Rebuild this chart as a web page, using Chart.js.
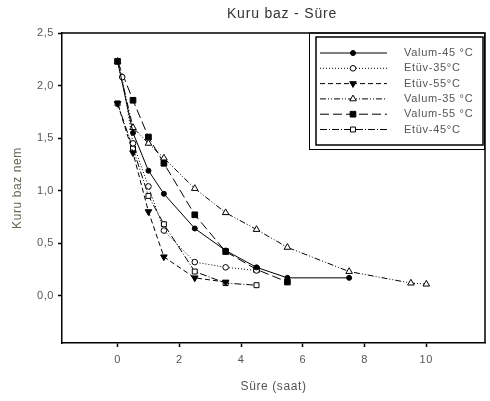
<!DOCTYPE html>
<html>
<head>
<meta charset="utf-8">
<script src="https://cdn.jsdelivr.net/npm/chart.js@4"></script>
<style>
  html, body { margin: 0; padding: 0; background: #fff; }
  #wrap { width: 490px; height: 401px; }
</style>
</head>
<body>
<div id="wrap"><canvas id="myChart" width="490" height="401"></canvas></div>
<script>
// series data (x = time in hours, y = moisture on dry basis)
var seriesNames = ['Valum-45 °C', 'Etüv-35°C', 'Etüv-55°C', 'Valum-35 °C', 'Valum-55 °C', 'Etüv-45°C'];

var v45X = [0, 0.5, 1, 1.5, 2.5, 3.5, 4.5, 5.5, 7.5];
var v45Y = [2.23, 1.55, 1.19, 0.97, 0.64, 0.43, 0.27, 0.17, 0.17];

var e35X = [0, 0.15, 0.5, 1, 1.5, 2.5, 3.5, 4.5];
var e35Y = [2.23, 2.08, 1.45, 1.04, 0.62, 0.32, 0.27, 0.24];

var e55X = [0, 0.5, 1, 1.5, 2.5, 3.5];
var e55Y = [1.83, 1.36, 0.80, 0.37, 0.17, 0.13];

var v35X = [0, 0.5, 1, 1.5, 2.5, 3.5, 4.5, 5.5, 7.5, 9.5, 10];
var v35Y = [2.23, 1.60, 1.45, 1.31, 1.02, 0.79, 0.63, 0.46, 0.23, 0.12, 0.11];

var v55X = [0, 0.5, 1, 1.5, 2.5, 3.5, 4.5, 5.5];
var v55Y = [2.23, 1.86, 1.51, 1.26, 0.77, 0.42, 0.25, 0.13];

var e45X = [0, 0.5, 1, 1.5, 2.5, 3.5, 4.5];
var e45Y = [1.83, 1.40, 0.95, 0.68, 0.23, 0.12, 0.10];

var xTicks = [0, 2, 4, 6, 8, 10];
var yTicks = [0, 0.5, 1, 1.5, 2, 2.5];

var chartTitle = 'Kuru baz - Süre';
var FONT = '"Liberation Sans", Arial, sans-serif';

function pts(xs, ys) {
    return xs.map(function (x, i) { return { x: x, y: ys[i] }; });
}

// line / marker styles per series
var styles = [
    { dash: [], pointStyle: 'circle', radius: 2.5, fill: '#000', rot: 0 },
    { dash: [1, 2], pointStyle: 'circle', radius: 2.8, fill: '#fff', rot: 0 },
    { dash: [5, 3], pointStyle: 'triangle', radius: 3.8, fill: '#000', rot: 180 },
    { dash: [6, 2, 1, 2, 1, 2], pointStyle: 'triangle', radius: 3.8, fill: '#fff', rot: 0 },
    { dash: [9, 4], pointStyle: 'rect', radius: 4, fill: '#000', rot: 0 },
    { dash: [7, 2, 1, 2], pointStyle: 'rect', radius: 3.5, fill: '#fff', rot: 0 }
];

var seriesData = [pts(v45X, v45Y), pts(e35X, e35Y), pts(e55X, e55Y), pts(v35X, v35Y), pts(v55X, v55Y), pts(e45X, e45Y)];

var datasets = seriesData.map(function (d, i) {
    var s = styles[i];
    return {
        label: seriesNames[i],
        data: d,
        borderColor: '#000',
        borderWidth: 1,
        borderDash: s.dash,
        pointStyle: s.pointStyle,
        pointRadius: s.radius,
        pointRotation: s.rot,
        pointBackgroundColor: s.fill,
        pointBorderColor: '#000',
        pointBorderWidth: 1,
        tension: 0,
        fill: false
    };
});

// slightly wider text, like the original
var spacingPlugin = {
    id: 'spacingPlugin',
    beforeDraw: function (chart) { chart.ctx.letterSpacing = '0.6px'; }
};

// title, frame + legend box
var framePlugin = {
    id: 'framePlugin',
    afterDatasetsDraw: function (chart) {
        var ctx = chart.ctx;
        var a = chart.chartArea;
        ctx.save();
        ctx.strokeStyle = '#000';
        ctx.lineWidth = 1.5;
        ctx.setLineDash([]);
        ctx.beginPath();
        ctx.moveTo(a.left, a.top);
        ctx.lineTo(a.right, a.top);
        ctx.lineTo(a.right, a.bottom);
        ctx.stroke();

        // title
        ctx.font = '14px ' + FONT;
        ctx.letterSpacing = '0.8px';
        ctx.fillStyle = '#333';
        ctx.textAlign = 'center';
        ctx.textBaseline = 'middle';
        ctx.fillText(chartTitle, 282, 14);

        // legend
        var bx = a.right - 169, by = a.top + 4, bw = 167, bh = 108;
        ctx.lineWidth = 1;
        ctx.strokeRect(a.right - 175.5, a.top, 175, 116.5);
        ctx.fillStyle = '#fff';
        ctx.fillRect(bx, by, bw, bh);
        ctx.lineWidth = 1.5;
        ctx.strokeRect(bx, by, bw, bh);

        ctx.font = '11px ' + FONT;
        ctx.letterSpacing = '0.7px';
        ctx.textAlign = 'left';
        for (var i = 0; i < seriesNames.length; i++) {
            var s = styles[i];
            var y = by + 16 + i * 15.3;
            ctx.strokeStyle = '#000';
            ctx.lineWidth = 1;
            ctx.setLineDash(s.dash);
            ctx.beginPath();
            ctx.moveTo(bx + 4, y);
            ctx.lineTo(bx + 71, y);
            ctx.stroke();
            ctx.setLineDash([]);
            ctx.fillStyle = s.fill;
            Chart.helpers.drawPoint(ctx, {
                pointStyle: s.pointStyle, radius: s.radius, rotation: s.rot, borderWidth: 1
            }, bx + 37, y);
            ctx.fillStyle = '#555';
            ctx.fillText(seriesNames[i], bx + 88, y);
        }
        ctx.restore();
    }
};

var ctx = document.getElementById('myChart').getContext('2d');
window.myChart = new Chart(ctx, {
    type: 'line',
    data: { datasets: datasets },
    plugins: [spacingPlugin, framePlugin],
    options: {
        responsive: false,
        animation: false,
        layout: { padding: { left: 0, right: -3, top: 33, bottom: 0 } },
        plugins: {
            legend: { display: false },
            tooltip: { enabled: false },
            title: { display: false }
        },
        scales: {
            x: {
                type: 'linear',
                min: -1.8,
                max: 11.9,
                afterBuildTicks: function (scale) {
                    scale.ticks = xTicks.map(function (v) { return { value: v }; });
                },
                afterFit: function (scale) { scale.height = 58; },
                grid: { drawOnChartArea: false, tickLength: 4, color: '#000', tickWidth: 1.5 },
                border: { display: true, color: '#000', width: 1.5 },
                ticks: {
                    color: '#555',
                    padding: 6,
                    maxRotation: 0,
                    font: { family: FONT, size: 11 }
                },
                title: {
                    display: true,
                    text: 'Süre (saat)',
                    color: '#555',
                    font: { family: FONT, size: 12 },
                    padding: { top: 0, bottom: 7 }
                }
            },
            y: {
                type: 'linear',
                min: -0.45,
                max: 2.5,
                afterBuildTicks: function (scale) {
                    scale.ticks = yTicks.map(function (v) { return { value: v }; });
                },
                afterFit: function (scale) { scale.width = 62; },
                grid: { drawOnChartArea: false, tickLength: 4, color: '#000', tickWidth: 1.5 },
                border: { display: true, color: '#000', width: 1.5 },
                ticks: {
                    color: '#555',
                    padding: 4,
                    font: { family: FONT, size: 11 },
                    callback: function (v) { return v.toFixed(1).replace('.', ','); }
                },
                title: {
                    display: true,
                    text: 'Kuru baz nem',
                    color: '#665',
                    font: { family: FONT, size: 12 },
                    padding: { top: 10, bottom: 0 }
                }
            }
        }
    }
});
</script>
</body>
</html>
